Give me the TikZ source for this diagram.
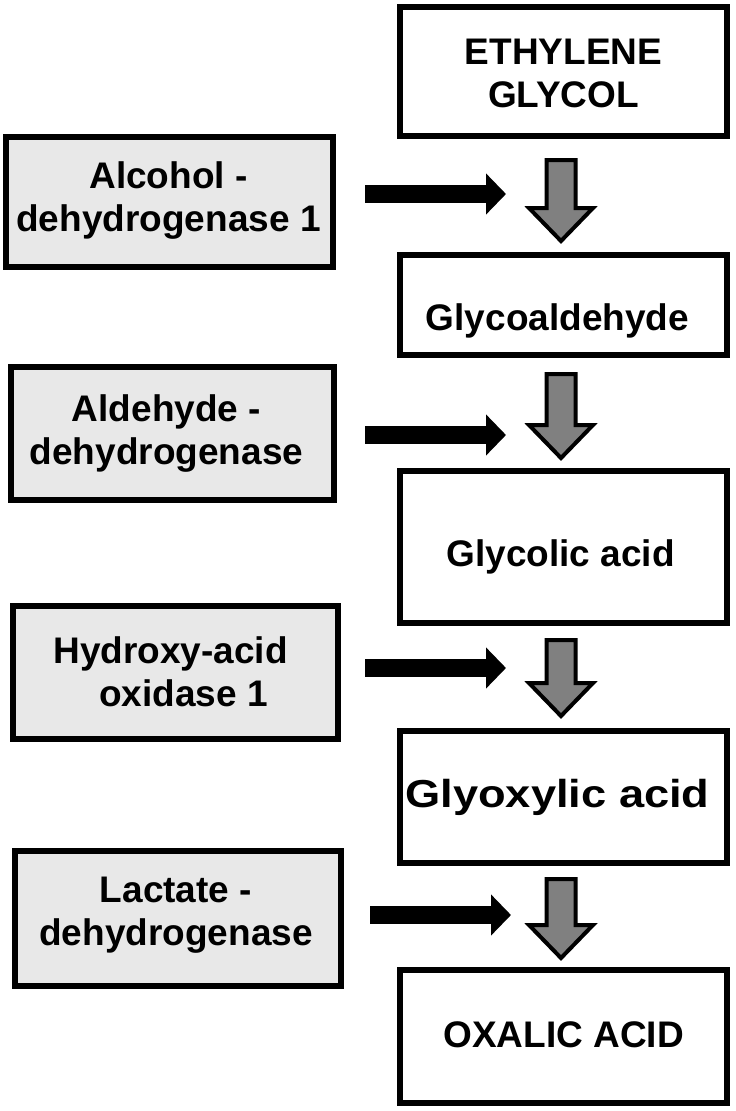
\documentclass[tikz,border=0pt]{standalone}
\usepackage{fontspec}
\usepackage{graphicx}
\setmainfont{Liberation Sans}
\usetikzlibrary{arrows.meta}
\definecolor{enzfill}{RGB}{232,232,232}
\definecolor{greyarr}{RGB}{128,128,128}
\begin{document}
\begin{tikzpicture}[x=1pt,y=-1pt,
  txt/.style={font=\fontsize{37}{43}\selectfont\bfseries, align=center, inner sep=0pt},
  prod/.style={draw=black, line width=6pt, fill=white, inner sep=0pt},
  enz/.style={draw=black, line width=6pt, fill=enzfill, inner sep=0pt},
  blackarr/.style={line width=18pt, -{Triangle[length=20pt,width=40pt]}},
  greyarrow/.style={draw=black, line width=4pt, fill=greyarr, line join=miter}
]
\useasboundingbox (0,0) rectangle (736,1111);
% product boxes
\node[prod, minimum width=327pt, minimum height=129pt] (EG) at (563.5,71.5) {};
\node[prod, minimum width=327pt, minimum height=100pt] (GA) at (563.5,305) {};
\node[prod, minimum width=327pt, minimum height=152pt] (GC) at (563.5,547) {};
\node[prod, minimum width=327pt, minimum height=132pt] (GX) at (563.5,797) {};
\node[prod, minimum width=327pt, minimum height=133pt] (OX) at (563.5,1036.5) {};
\node[txt] (EGt) at ([yshift=-2pt]EG.center) {ETHYLENE\\GLYCOL};
\node[txt] (GAt) at ([xshift=-6pt,yshift=-16pt]GA.center) {Glycoaldehyde};
\node[txt] (GCt) at ([xshift=-3pt,yshift=-10pt]GC.center) {Glycolic acid};
\node[txt, font=\fontsize{39}{45}\selectfont\bfseries] (GXt) at ([xshift=-6pt,yshift=0pt]GX.center) {\scalebox{1.16}[1]{Glyoxylic acid}};
\node[txt] (OXt) at ([yshift=2pt]OX.center) {OXALIC ACID};
% enzyme boxes
\node[enz, minimum width=327pt, minimum height=130pt] (ADH) at (169.5,202) {};
\node[enz, minimum width=323pt, minimum height=133pt] (ALDH) at (172.5,433.5) {};
\node[enz, minimum width=325pt, minimum height=133pt] (HAO) at (175.5,672.5) {};
\node[enz, minimum width=326pt, minimum height=135pt] (LDH) at (178,918.5) {};
\node[txt] (ADHt) at ([xshift=-1pt,yshift=1pt]ADH.center) {Alcohol -\\dehydrogenase 1};
\node[txt] (ALDHt) at ([xshift=-6pt]ALDH.center) {Aldehyde -\\dehydrogenase};
\node[txt] (HAOt) at ([xshift=-5pt,yshift=1pt]HAO.center) {Hydroxy-acid\\\hspace*{26pt}oxidase 1};
\node[txt] (LDHt) at ([xshift=-2pt,yshift=3pt]LDH.center) {Lactate -\\dehydrogenase};
% black arrows
\coordinate (b1s) at (365,194); \coordinate (b1e) at (506,194);
\coordinate (b2s) at (365,435); \coordinate (b2e) at (506,435);
\coordinate (b3s) at (365,668); \coordinate (b3e) at (506,668);
\coordinate (b4s) at (370,915); \coordinate (b4e) at (511,915);
\draw[blackarr] (b1s) -- (b1e);
\draw[blackarr] (b2s) -- (b2e);
\draw[blackarr] (b3s) -- (b3e);
\draw[blackarr] (b4s) -- (b4e);
% grey down arrows (top centre points)
\foreach \n/\ty/\len in {g1/160/81, g2/374/84, g3/640/76, g4/879/79}{
  \coordinate (\n) at (561,\ty);
  \draw[greyarrow] (\n) ++(-14.5,0) -- ++(29,0) -- ++(0,\len-33) -- ++(17.5,0)
     -- ++(-32,33) -- ++(-32,-33) -- ++(17.5,0) -- cycle;
}
\end{tikzpicture}
\end{document}
